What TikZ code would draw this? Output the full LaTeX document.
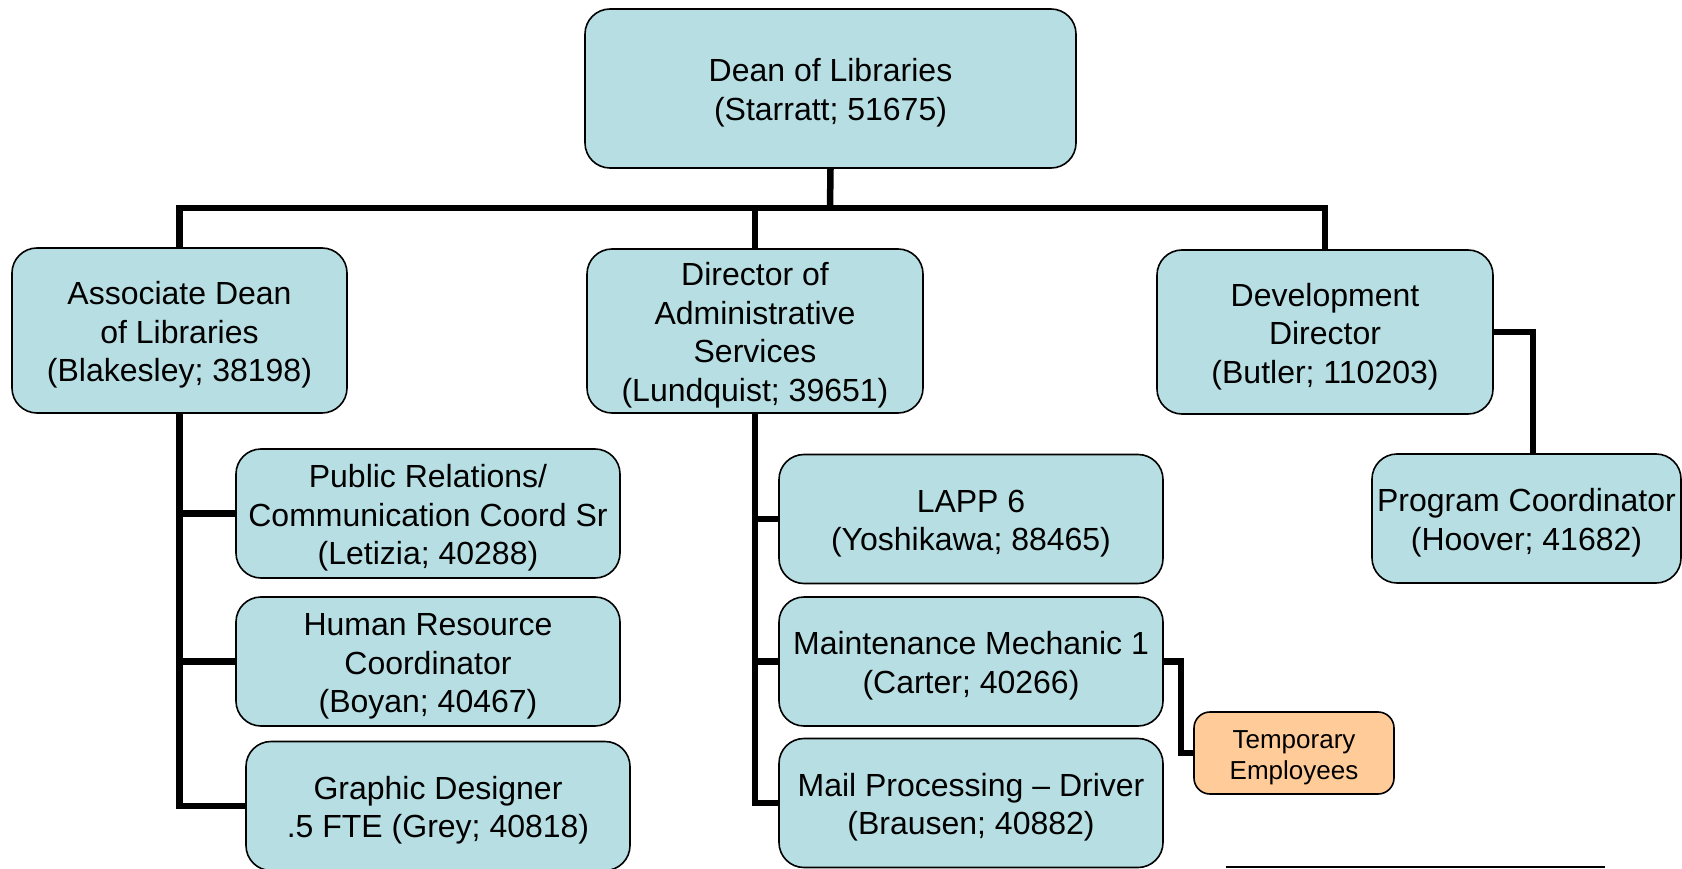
\documentclass[tikz,border=0pt]{standalone}
\usepackage{fontspec}
\setmainfont{Liberation Sans}
\usepackage{xcolor}
\usepackage{tikz}
\usetikzlibrary{calc}

\definecolor{boxblue}{RGB}{183,223,227}
\definecolor{boxorange}{RGB}{255,204,153}
% pushes the text block a little lower in its box
\newcommand{\lowtext}{\rule{0pt}{32pt}}
\newcommand{\lowsmall}{\rule{0pt}{28pt}}

\begin{document}
\begin{tikzpicture}[x=1pt, y=-1pt,
    post/.style={draw=black, line width=1.6pt, fill=boxblue, rounded corners=25pt,
        align=center, inner sep=0pt, font=\fontsize{32}{38.6}\selectfont},
    wide/.style={post, minimum width=384pt, minimum height=129pt},
    conn/.style={line width=6.5pt}]
    \useasboundingbox (0,0) rectangle (1682,869);
    \node[post, minimum width=491pt, minimum height=159pt] (dean) at (830.5,88.5) {\lowtext Dean of Libraries\\(Starratt; 51675)};
    \node[post, minimum width=335pt, minimum height=165pt] (assoc) at (179.5,330.5) {\lowtext Associate Dean\\of Libraries\\(Blakesley; 38198)};
    \node[post, minimum width=336pt, minimum height=164pt] (admin) at (755,331) {\lowtext Director of\\Administrative\\Services\\(Lundquist; 39651)};
    \node[post, minimum width=336pt, minimum height=164pt] (devel) at (1325,332) {\lowtext Development\\Director\\(Butler; 110203)};
    \node[post, minimum width=309pt, minimum height=129pt] (progc) at (1526.5,518.5) {\lowtext Program Coordinator\\(Hoover; 41682)};
    \node[wide] (pubrel) at (428,513.5) {\lowtext Public Relations/\\Communication Coord Sr\\(Letizia; 40288)};
    \node[wide] (hres) at (428,661.5) {\lowtext Human Resource\\Coordinator\\(Boyan; 40467)};
    \node[wide] (graph) at (438,806) {\lowtext Graphic Designer\\.5 FTE (Grey; 40818)};
    \node[wide] (lapp) at (971,519) {\lowtext LAPP 6\\(Yoshikawa; 88465)};
    \node[wide] (maint) at (971,661.5) {\lowtext Maintenance Mechanic 1\\(Carter; 40266)};
    \node[wide] (mail) at (971,803) {\lowtext Mail Processing -- Driver\\(Brausen; 40882)};
    \node[post, fill=boxorange, rounded corners=16pt, minimum width=200pt, minimum height=82pt,
        font=\fontsize{26}{31}\selectfont] (temp) at (1294,753) {\lowsmall Temporary\\Employees};

    \coordinate (bus) at (830,208);
    \draw[conn] (dean.south) -- (bus);
    \draw[conn] (assoc.north) |- (bus) -| (devel.north);
    \draw[conn] (admin.north) -- (admin.north |- bus);
    \draw[conn] (assoc.south) |- (graph.west);
    \draw[conn] (assoc.south |- pubrel.west) -- (pubrel.west);
    \draw[conn] (assoc.south |- hres.west) -- (hres.west);
    \draw[conn] (admin.south) |- (mail.west);
    \draw[conn] (admin.south |- lapp.west) -- (lapp.west);
    \draw[conn] (admin.south |- maint.west) -- (maint.west);
    \draw[conn] (maint.east) -- ++(17,0) |- (temp.west);
    \draw[conn] (devel.east) -| ([xshift=6.5pt]progc.north);
    \coordinate (rulel) at (1226,867);
    \coordinate (ruler) at (1605,867);
    \draw[line width=2pt] (rulel) -- (ruler);
\end{tikzpicture}
\end{document}
